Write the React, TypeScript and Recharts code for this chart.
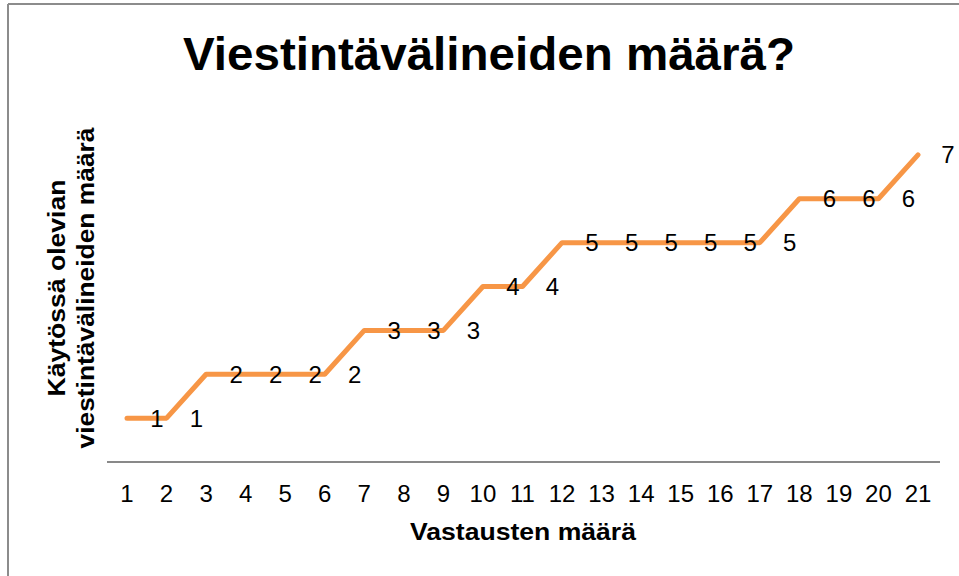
import { LineChart, Line, XAxis, YAxis, LabelList } from "recharts";

const responses = ["1", "2", "3", "4", "5", "6", "7", "8", "9", "10", "11", "12", "13", "14", "15", "16", "17", "18", "19", "20", "21"];
const channelCounts = [1, 1, 2, 2, 2, 2, 3, 3, 3, 4, 4, 5, 5, 5, 5, 5, 5, 6, 6, 6, 7];

const chartTitle = "Viestintävälineiden määrä?";
const xTitle = "Vastausten määrä";
const yTitleLines = ["Käytössä olevian", "viestintävälineiden määrä"];

const data = responses.map((r, i) => ({ name: r, value: channelCounts[i] }));

const FONT = '"Liberation Sans", Arial, sans-serif';

function PointLabel(props: any) {
  const { x, y, value } = props;
  return (
    <text x={x + 30} y={y} textAnchor="middle" dominantBaseline="central" fontSize={24} fill="#000" fontFamily={FONT}>
      {value}
    </text>
  );
}

export default function App() {
  return (
    <div style={{ position: "absolute", left: 0, top: 0, width: 959, height: 576, background: "#fff", fontFamily: FONT }}>
      <LineChart width={959} height={576} data={data} margin={{ top: 111, right: 19, left: 107, bottom: 0 }}>
        <XAxis
          dataKey="name"
          height={114}
          padding={{ left: 20, right: 22 }}
          axisLine={{ stroke: "#898989", strokeWidth: 2 }}
          tickLine={false}
          tickSize={6}
          tickMargin={17}
          interval={0}
          tick={{ fontSize: 24, fill: "#000", fontFamily: FONT }}
        />
        <YAxis hide width={0} domain={[0, 8]} type="number" />
        <Line
          type="linear"
          dataKey="value"
          stroke="#F79646"
          strokeWidth={5}
          strokeLinecap="round"
          strokeLinejoin="round"
          dot={false}
          isAnimationActive={false}
        >
          <LabelList dataKey="value" content={<PointLabel />} />
        </Line>
      </LineChart>
      <svg width={959} height={576} style={{ position: "absolute", left: 0, top: 0, pointerEvents: "none" }}>
        <line x1={8} y1={4} x2={959} y2={4} stroke="#8c8c8c" strokeWidth={2} />
        <line x1={8} y1={4} x2={8} y2={576} stroke="#8c8c8c" strokeWidth={2} />
        <text x={489} y={70} textAnchor="middle" fontSize={47} fontWeight="bold" fill="#000" fontFamily={FONT} textLength={612} lengthAdjust="spacingAndGlyphs">
          {chartTitle}
        </text>
        <text x={523} y={540} textAnchor="middle" fontSize={23} fontWeight="bold" fill="#000" fontFamily={FONT} textLength={226} lengthAdjust="spacingAndGlyphs">
          {xTitle}
        </text>
        <text x={65} y={288} transform="rotate(-90, 65, 288)" textAnchor="middle" fontSize={23} fontWeight="bold" fill="#000" fontFamily={FONT} textLength={217} lengthAdjust="spacingAndGlyphs">
          {yTitleLines[0]}
        </text>
        <text x={94} y={288} transform="rotate(-90, 94, 288)" textAnchor="middle" fontSize={23} fontWeight="bold" fill="#000" fontFamily={FONT} textLength={321} lengthAdjust="spacingAndGlyphs">
          {yTitleLines[1]}
        </text>
      </svg>
    </div>
  );
}
